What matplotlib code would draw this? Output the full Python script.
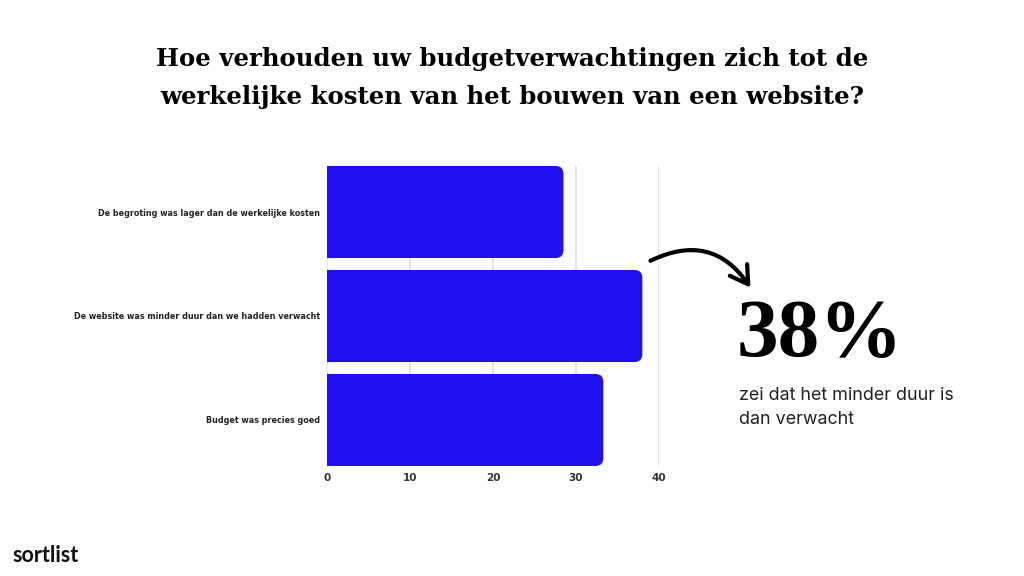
import matplotlib.pyplot as plt
from matplotlib.patches import FancyBboxPatch, FancyArrowPatch

# data
categories = [
    "De begroting was lager dan de werkelijke kosten",
    "De website was minder duur dan we hadden verwacht",
    "Budget was precies goed",
]
values = [28.5, 38, 33.3]
x_ticks = [0, 10, 20, 30, 40]

title = "Hoe verhouden uw budgetverwachtingen zich tot de\nwerkelijke kosten van het bouwen van een website?"
big_number = "38%"
sub_text = "zei dat het minder duur is\ndan verwacht"

bar_color = "#2010F0"

fig = plt.figure(figsize=(10.24, 5.76), dpi=100)
ax = fig.add_axes([0.3193, 0.191, 0.3242, 0.5208])

bar_h = 0.885
ax.set_xlim(0, 40)
ax.set_ylim(len(categories) - 1 + bar_h / 2, -bar_h / 2)

# rounded bars (left corners are clipped at x=0)
for i, v in enumerate(values):
    p = FancyBboxPatch((-2, i - bar_h / 2), v + 2, bar_h,
                       boxstyle="round,pad=0,rounding_size=0.95",
                       mutation_aspect=0.08,
                       facecolor=bar_color, edgecolor="none", zorder=3)
    ax.add_patch(p)

ax.set_yticks(range(len(categories)))
ax.set_yticklabels(categories, fontsize=5.8, fontweight="bold", color="#222222")
ax.set_xticks(x_ticks)
ax.set_xticklabels([str(t) for t in x_ticks], fontsize=7.5, fontweight="bold", color="#333333")
ax.tick_params(length=0, axis="y", pad=5)
ax.tick_params(length=0, axis="x", pad=5)
ax.grid(axis="x", color="#dddddd", linewidth=1.1, zorder=0)
ax.grid(axis="y", visible=False)
for s in ax.spines.values():
    s.set_visible(False)

fig.text(0.5, 0.865, title, ha="center", va="center", fontsize=17.6,
         fontweight="bold", family="DejaVu Serif", linespacing=1.72)

fig.text(0.719, 0.382, big_number, ha="left", va="baseline", fontsize=60,
         family="Liberation Serif", fontweight="bold")
fig.text(0.722, 0.293, sub_text, ha="left", va="center", fontsize=12.9,
         family="Inter", color="#222222", linespacing=1.55)

arrow = FancyArrowPatch((648 / 1024, 1 - 262 / 576), (752 / 1024, 1 - 290 / 576),
                        transform=fig.transFigure, connectionstyle="arc3,rad=-0.45",
                        arrowstyle="->,head_length=5,head_width=3", color="black",
                        linewidth=3, mutation_scale=2.5, capstyle="round",
                        joinstyle="round")
fig.patches.append(arrow)

fig.text(0.012, 0.035, "sortlist", ha="left", va="center", fontsize=15.5,
         fontweight="bold", family="Lato", color="#111111")

plt.savefig("out.png", dpi=100, facecolor="white")
